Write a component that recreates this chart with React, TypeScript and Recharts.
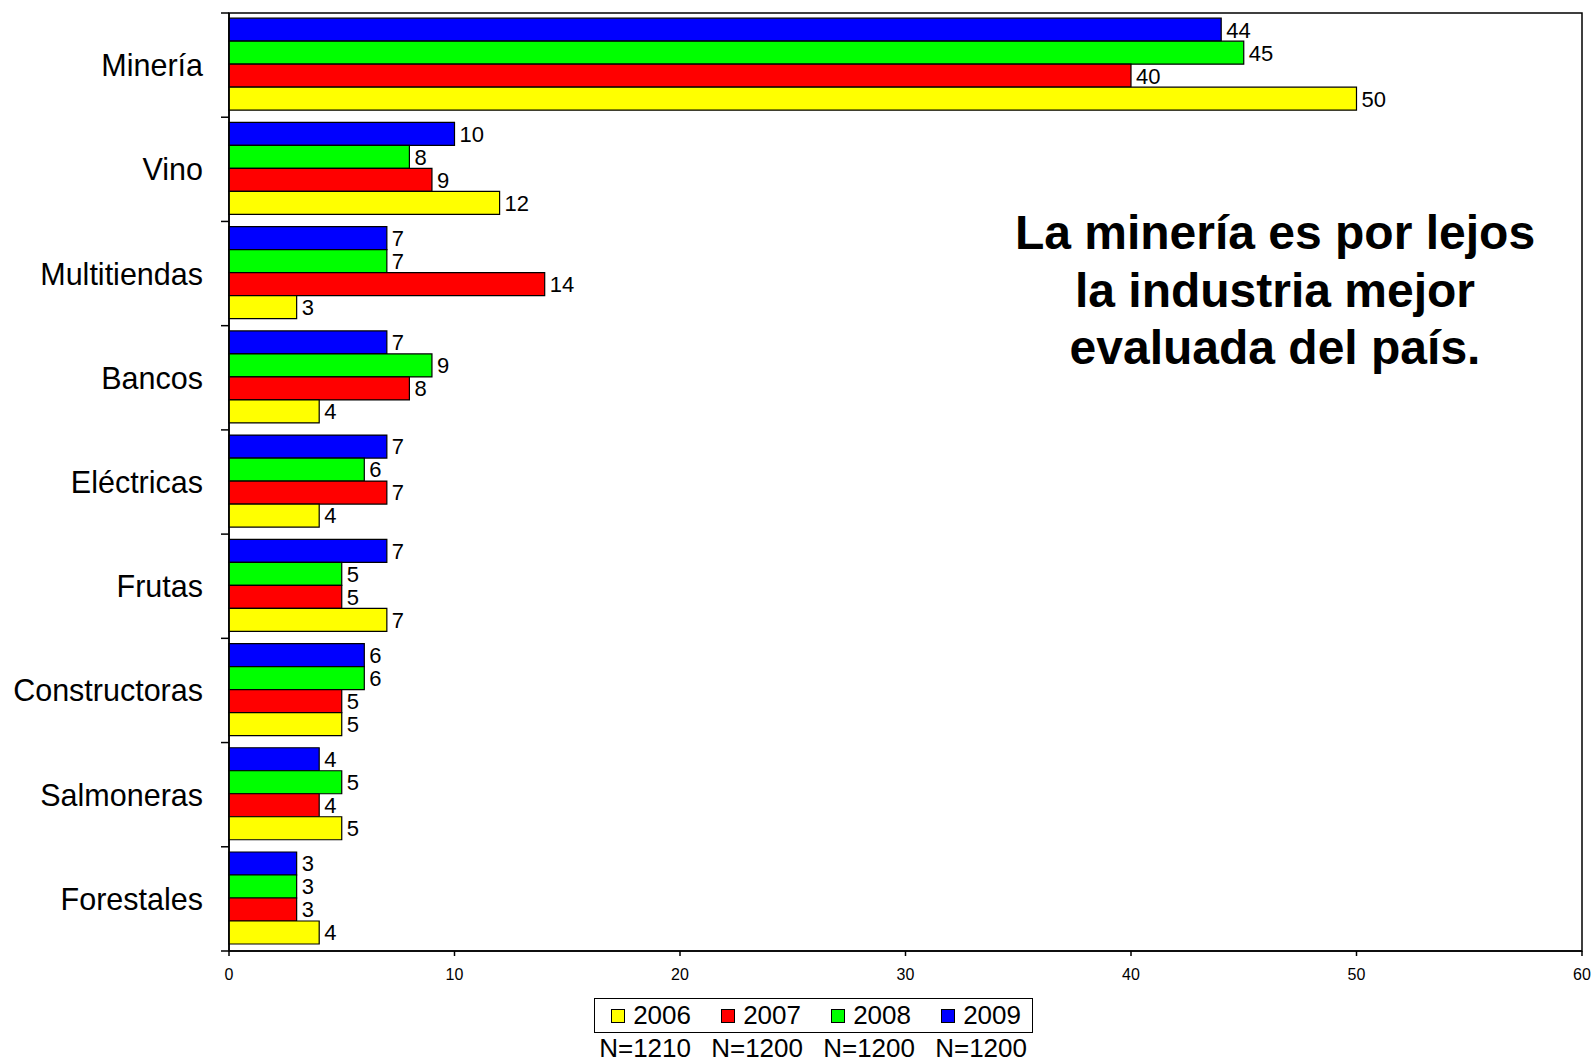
import { BarChart, Bar, XAxis, YAxis, LabelList, ReferenceArea } from 'recharts';

const categories = ['Minería', 'Vino', 'Multitiendas', 'Bancos', 'Eléctricas', 'Frutas', 'Constructoras', 'Salmoneras', 'Forestales'];
const values2006 = [50, 12, 3, 4, 4, 7, 5, 5, 4];
const values2007 = [40, 9, 14, 8, 7, 5, 5, 4, 3];
const values2008 = [45, 8, 7, 9, 6, 5, 6, 5, 3];
const values2009 = [44, 10, 7, 7, 7, 7, 6, 4, 3];
const xTicks = [0, 10, 20, 30, 40, 50, 60];

const series = [
  { key: 'y2006', label: '2006', n: 'N=1210', color: '#ffff00' },
  { key: 'y2007', label: '2007', n: 'N=1200', color: '#ff0000' },
  { key: 'y2008', label: '2008', n: 'N=1200', color: '#00ff00' },
  { key: 'y2009', label: '2009', n: 'N=1200', color: '#0000ff' },
];

const data = categories.map((name, i) => ({
  name,
  y2006: values2006[i],
  y2007: values2007[i],
  y2008: values2008[i],
  y2009: values2009[i],
}));

const W = 1593;
const H = 1062;
const PLOT_LEFT = 229;
const PLOT_TOP = 13;
const PLOT_BOTTOM = 951;
const BAND = (PLOT_BOTTOM - PLOT_TOP) / categories.length;
const FONT = 'Arial, "Liberation Sans", sans-serif';

function CategoryTick(props: any) {
  const { y, payload, index } = props;
  const top = y - BAND / 2;
  return (
    <g>
      <line x1={PLOT_LEFT - 8} x2={PLOT_LEFT} y1={top} y2={top} stroke="#000" strokeWidth={1.5} />
      {index === categories.length - 1 && (
        <line x1={PLOT_LEFT - 8} x2={PLOT_LEFT} y1={y + BAND / 2} y2={y + BAND / 2} stroke="#000" strokeWidth={1.5} />
      )}
      <text x={PLOT_LEFT - 26} y={y} dy="0.36em" textAnchor="end" fontSize={30.5} fontFamily={FONT} fill="#000">
        {payload.value}
      </text>
    </g>
  );
}

function NumberTick(props: any) {
  const { x, y, payload } = props;
  return (
    <text x={x} y={y} dy="0.71em" textAnchor="middle" fontSize={16} fontFamily={FONT} fill="#000">
      {payload.value}
    </text>
  );
}

export default function App() {
  const drawOrder = [...series].reverse();
  return (
    <div style={{ position: 'absolute', left: 0, top: 0, width: W, height: H, background: '#fff', fontFamily: FONT }}>
      <BarChart
        width={W}
        height={H}
        data={data}
        layout="vertical"
        margin={{ top: PLOT_TOP, right: 11, left: 0, bottom: H - PLOT_BOTTOM - 40 }}
        barCategoryGap="5%"
        barGap={0}
      >
        <XAxis
          type="number"
          domain={[0, 60]}
          ticks={xTicks}
          height={40}
          tick={<NumberTick />}
          tickSize={5}
          tickMargin={13}
          stroke="#000"
          strokeWidth={1.5}
          interval={0}
        />
        <YAxis
          type="category"
          dataKey="name"
          width={PLOT_LEFT}
          tick={<CategoryTick />}
          tickLine={false}
          stroke="#000"
          strokeWidth={1.5}
          interval={0}
        />
        <ReferenceArea x1={0} x2={60} fill="none" fillOpacity={0} stroke="#000" strokeWidth={1.5} ifOverflow="visible" />
        {drawOrder.map((s) => (
          <Bar key={s.key} dataKey={s.key} fill={s.color} stroke="#000" strokeWidth={1.2} isAnimationActive={false}>
            <LabelList dataKey={s.key} position="right" offset={5} fill="#000" fontSize={22} fontFamily={FONT} />
          </Bar>
        ))}
      </BarChart>

      <div
        style={{
          position: 'absolute',
          left: 975,
          top: 204,
          width: 600,
          textAlign: 'center',
          fontWeight: 'bold',
          fontSize: 48,
          lineHeight: '57.5px',
          color: '#000',
        }}
      >
        La minería es por lejos
        <br />
        la industria mejor
        <br />
        evaluada del país.
      </div>

      <div
        style={{
          position: 'absolute',
          left: 594,
          top: 998,
          width: 439,
          height: 35,
          boxSizing: 'border-box',
          border: '1.5px solid #000',
          background: '#fff',
        }}
      />
      {series.map((s, i) => (
        <div
          key={s.key}
          style={{
            position: 'absolute',
            left: 581 + i * 110,
            top: 998,
            width: 110,
            height: 35,
            display: 'flex',
            alignItems: 'center',
            justifyContent: 'flex-end',
            fontSize: 26,
          }}
        >
          <span
            style={{
              display: 'inline-block',
              width: 12,
              height: 12,
              border: '1.5px solid #000',
              background: s.color,
              marginRight: 8,
            }}
          />
          <span>{s.label}</span>
        </div>
      ))}
      {series.map((s, i) => (
        <div
          key={s.key + 'n'}
          style={{
            position: 'absolute',
            left: 581 + i * 112,
            top: 1033,
            width: 110,
            textAlign: 'right',
            fontSize: 26,
            lineHeight: '30px',
          }}
        >
          {s.n}
        </div>
      ))}
    </div>
  );
}
